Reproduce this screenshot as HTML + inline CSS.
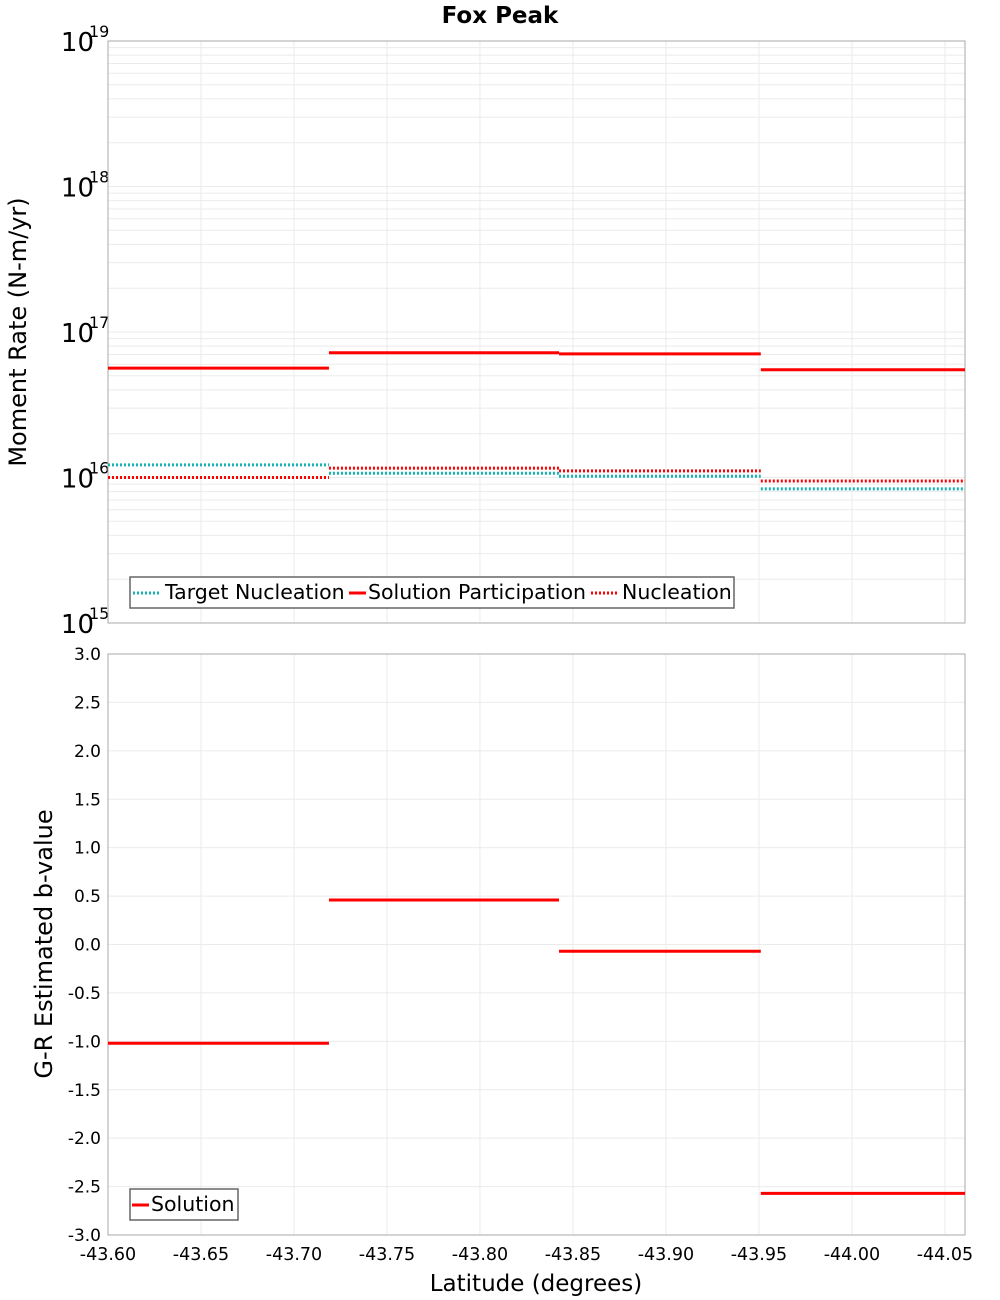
<!DOCTYPE html>
<html><head><meta charset="utf-8">
<style>
html,body{margin:0;padding:0;background:#fff;}
svg{display:block;font-family:"DejaVu Sans","Liberation Sans",sans-serif;}
</style></head>
<body>
<svg id="chart" width="1000" height="1300" viewBox="0 0 1000 1300" xmlns="http://www.w3.org/2000/svg">
<text x="500" y="23" text-anchor="middle" font-size="23" font-weight="bold">Fox Peak</text>
<text transform="translate(26,332) rotate(-90)" text-anchor="middle" font-size="24">Moment Rate (N-m/yr)</text>
<text transform="translate(52,944) rotate(-90)" text-anchor="middle" font-size="24">G-R Estimated b-value</text>
<text x="536" y="1291" text-anchor="middle" font-size="23">Latitude (degrees)</text>
<g id="g"></g>
</svg>
<script>
const sectionEdges = [-43.60, -43.7188, -43.8425, -43.951, -44.0608];
const solutionParticipation = [5.65e16, 7.2e16, 7.07e16, 5.5e16];
const targetNucleation = [1.22e16, 1.07e16, 1.02e16, 8.35e15];
const nucleation = [1.0e16, 1.16e16, 1.11e16, 9.46e15];
const bValues = [-1.02, 0.46, -0.07, -2.57];
const xTicks = [-43.60, -43.65, -43.70, -43.75, -43.80, -43.85, -43.90, -43.95, -44.00, -44.05];
const yDecades = [15, 16, 17, 18, 19];
const bTicks = [3.0, 2.5, 2.0, 1.5, 1.0, 0.5, 0.0, -0.5, -1.0, -1.5, -2.0, -2.5, -3.0];

const NS = "http://www.w3.org/2000/svg";
const g = document.getElementById('g');
const L = 108, R = 965;
const T1 = 41, B1 = 623, T2 = 654, B2 = 1235;
const xMin = -43.60, xMax = -44.0608;
const X = v => L + (v - xMin) / (xMax - xMin) * (R - L);
const Ylog = v => B1 - (Math.log10(v) - 15) / 4 * (B1 - T1);
const Yb = v => B2 - (v + 3) / 6 * (B2 - T2);

function mk(tag, attrs, parent) {
  const e = document.createElementNS(NS, tag);
  for (const k in attrs) e.setAttribute(k, attrs[k]);
  (parent || g).appendChild(e);
  return e;
}

const p1 = mk('rect', {x: L, y: T1, width: R - L, height: B1 - T1, fill: '#fff', stroke: 'none'});


const p2 = mk('rect', {x: L, y: T2, width: R - L, height: B2 - T2, fill: '#fff', stroke: 'none'});



for (let d = 15; d < 19; d++) {
  for (let m = 1; m <= 9; m++) {
    const y = Ylog(m * Math.pow(10, d));
    const ln = mk('line', {x1: L, x2: R, y1: y, y2: y, stroke: '#ebebeb', 'stroke-width': 1});
    
    
  }
}
bTicks.forEach(t => {
  const y = Yb(t);
  const ln = mk('line', {x1: L, x2: R, y1: y, y2: y, stroke: '#ebebeb', 'stroke-width': 1});
  
  
  const tx = mk('text', {x: L - 7, y: y + 6, 'text-anchor': 'end', 'font-size': 17});
  tx.textContent = t.toFixed(1);
  
  
});
xTicks.forEach(t => {
  const x = X(t);
  [[T1, B1], [T2, B2]].forEach(([a, b]) => {
    const ln = mk('line', {x1: x, x2: x, y1: a, y2: b, stroke: '#ebebeb', 'stroke-width': 1});
    
    
  });
  const tx = mk('text', {x: x, y: 1260, 'text-anchor': 'middle', 'font-size': 17.5});
  tx.textContent = t.toFixed(2);
  
  
});
yDecades.forEach(d => {
  const y = Ylog(Math.pow(10, d));
  const tx = mk('text', {x: 94, y: y + 10, 'text-anchor': 'end', 'font-size': 26});
  tx.textContent = '10';
  
  
  const ex = mk('text', {x: 89, y: y - 4, 'font-size': 16});
  ex.textContent = String(d);
  
  
});
[[T1, B1, 'top-plot-border'], [T2, B2, 'bottom-plot-border']].forEach(([a, b, n]) => {
  const r = mk('rect', {x: L, y: a, width: R - L, height: b - a, fill: 'none', stroke: '#aaa', 'stroke-width': 1});
  
  
});

function steps(vals, yf, color, dash, name) {
  vals.forEach((v, i) => {
    const a = {x1: X(sectionEdges[i]), x2: X(sectionEdges[i + 1]), y1: yf(v), y2: yf(v), stroke: color, 'stroke-width': 3};
    if (dash) a['stroke-dasharray'] = dash;
    const ln = mk('line', a);
    
    
  });
}
steps(targetNucleation, Ylog, '#14b4b4', '2,2', 'target-nucleation-segment');
steps(solutionParticipation, Ylog, '#ff0000', null, 'solution-participation-segment');
steps(nucleation, Ylog, '#ff0000', '2,2', 'nucleation-segment');
steps(bValues, Yb, '#ff0000', null, 'b-value-segment');

function legend(x, y, w, entries, name) {
  const box = mk('rect', {x: x, y: y, width: w, height: 31, fill: '#fff', stroke: '#666', 'stroke-width': 1.5});
  
  
  entries.forEach(([lx, lw, tx0, label, color, dash, n]) => {
    const a = {x1: lx, x2: lx + lw, y1: y + 16, y2: y + 16, stroke: color, 'stroke-width': 3};
    if (dash) a['stroke-dasharray'] = '2,2';
    const ln = mk('line', a);
    
    
    const t = mk('text', {x: tx0, y: y + 22, 'font-size': 20.5});
    t.textContent = label;
    
    
  });
}
legend(130, 577, 604, [
  [133, 28, 165, 'Target Nucleation', '#14b4b4', true, 'legend-target-nucleation'],
  [349, 17, 368, 'Solution Participation', '#ff0000', false, 'legend-solution-participation'],
  [591, 28, 622, 'Nucleation', '#ff0000', true, 'legend-nucleation']
], 'top-legend');
legend(130, 1189, 108, [
  [132, 17, 151, 'Solution', '#ff0000', false, 'legend-solution']
], 'bottom-legend');
</script>
</body></html>
